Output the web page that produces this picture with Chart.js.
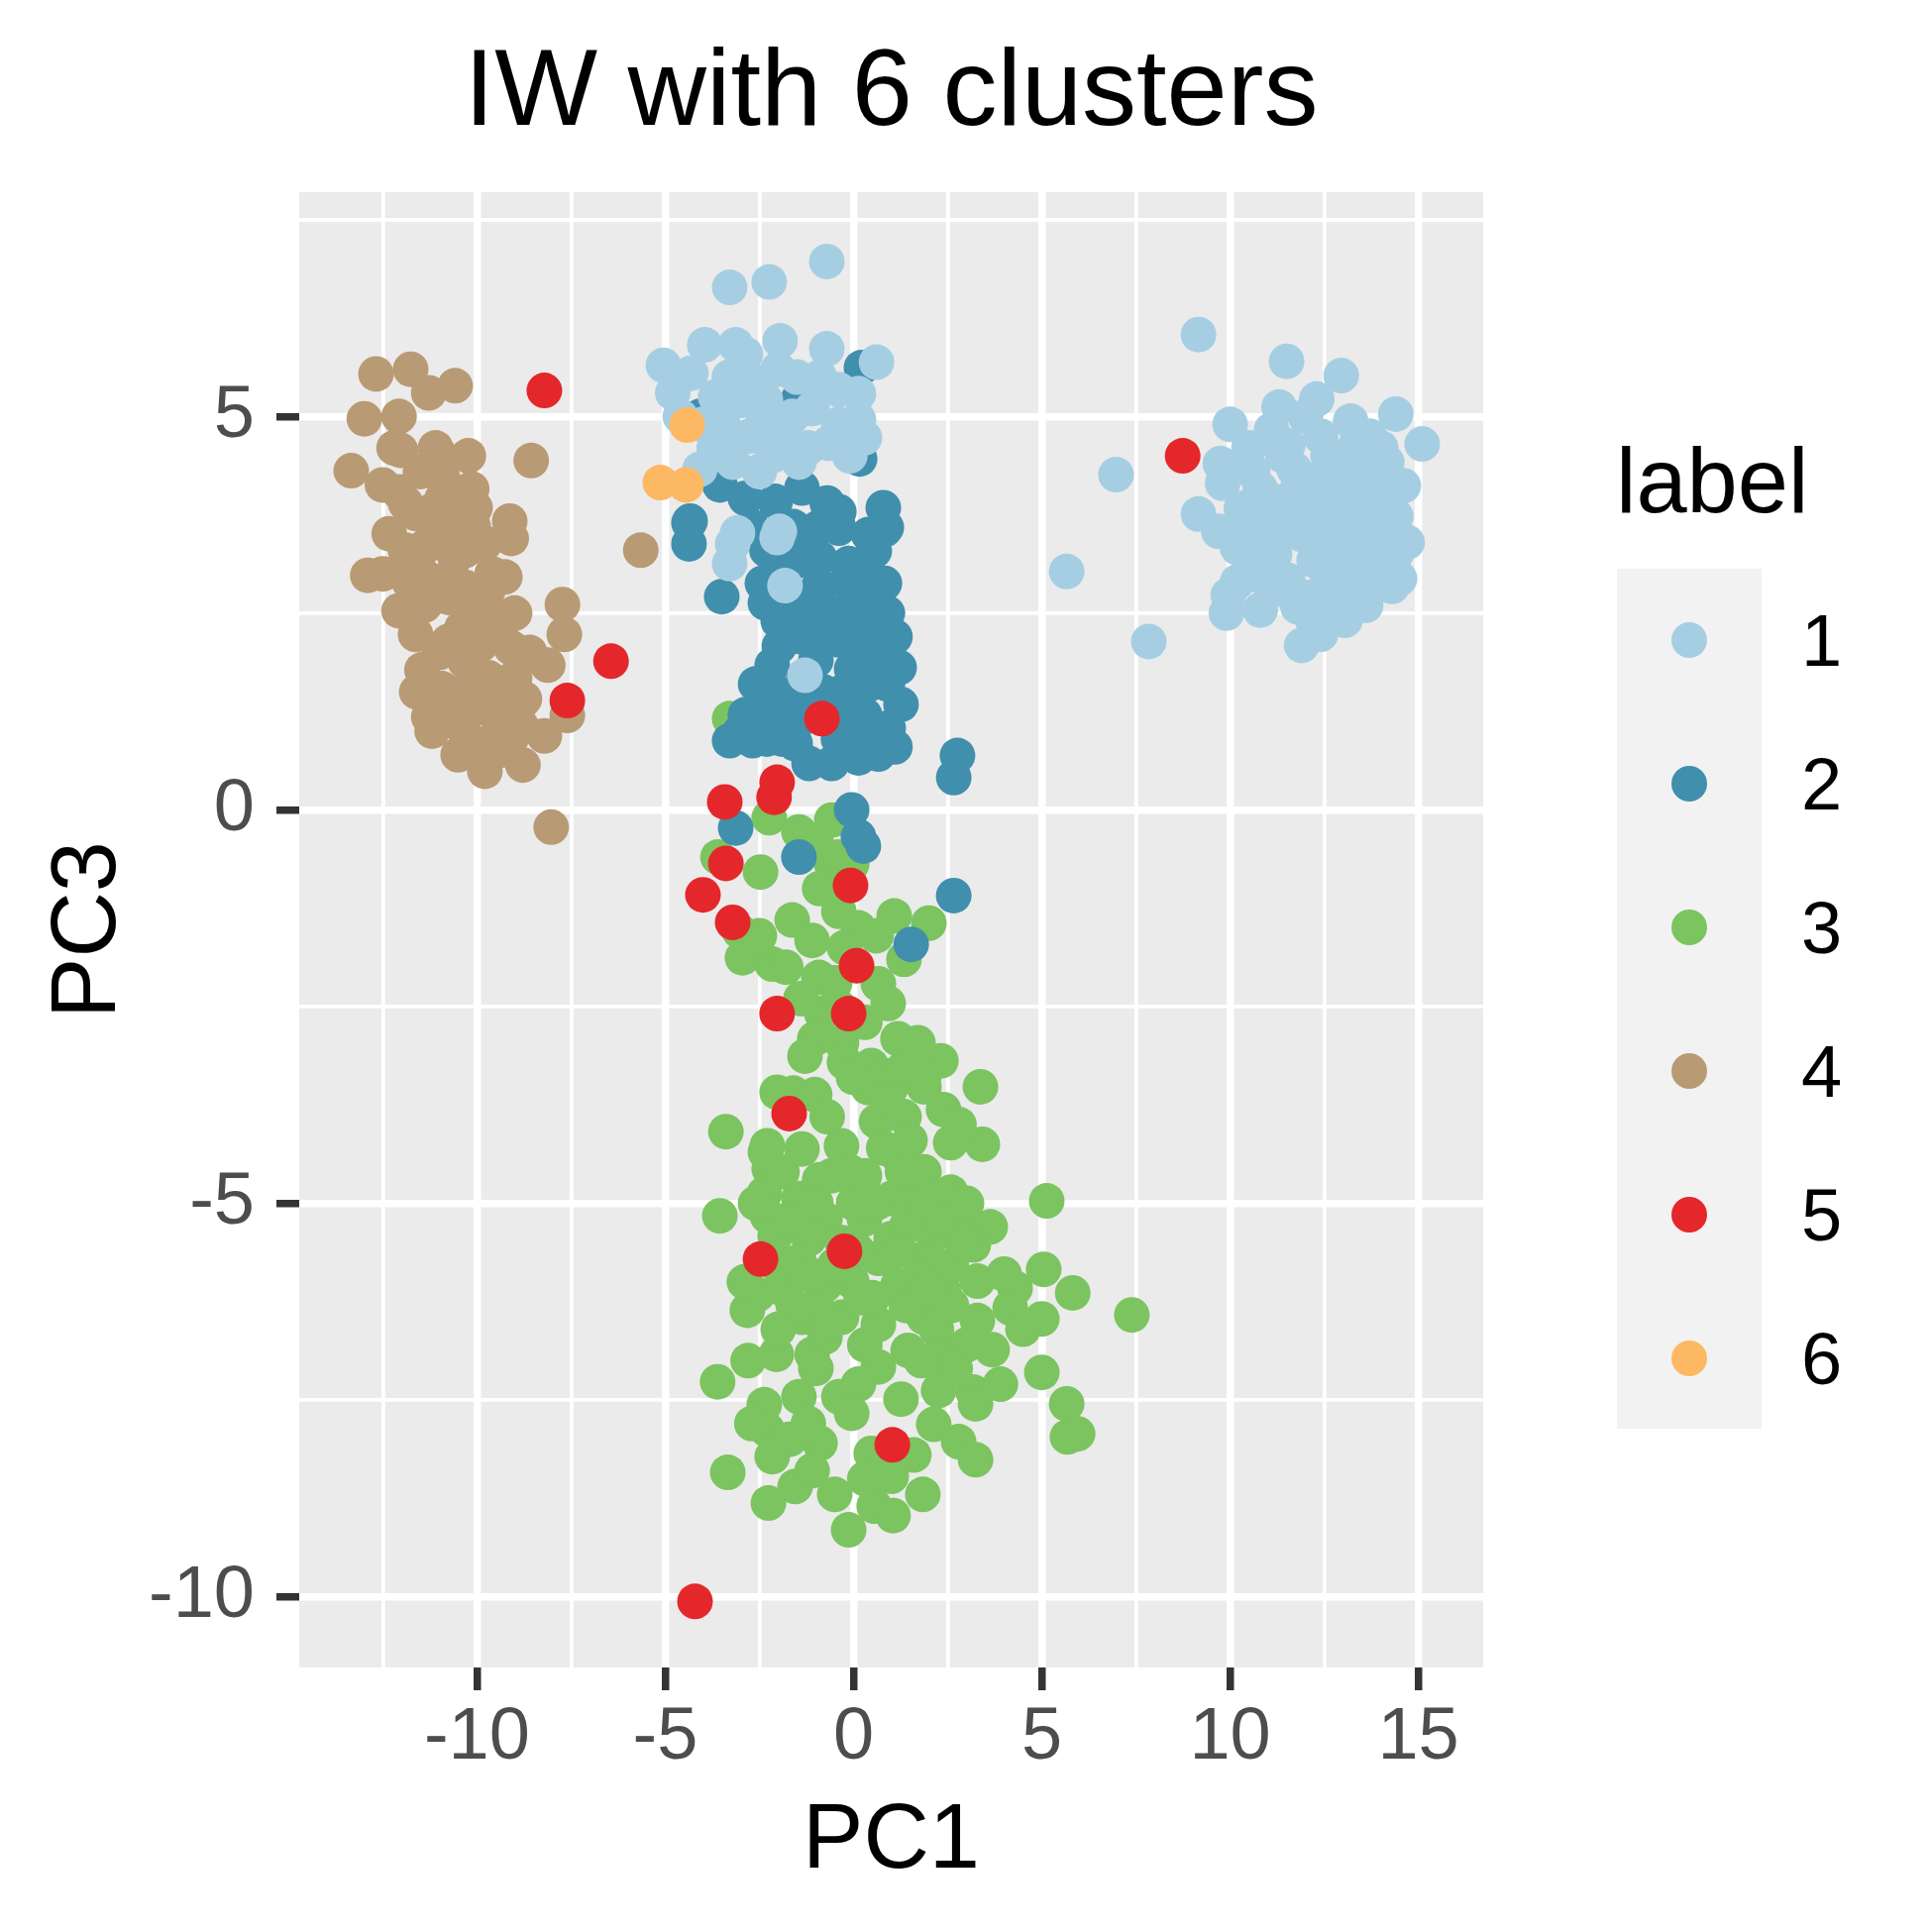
<!DOCTYPE html>
<html>
<head>
<meta charset="utf-8">
<title>IW with 6 clusters</title>
<script src="https://cdn.jsdelivr.net/npm/chart.js@4.4.1/dist/chart.umd.min.js"></script>
<style>
  html, body { margin: 0; padding: 0; background: #ffffff; }
  #wrap { width: 1950px; height: 1950px; }
</style>
</head>
<body>
<div id="wrap"><canvas id="pcaPlot" width="1950" height="1950"></canvas></div>
<script>
// PC1 / PC3 scores, one array per cluster label: [PC1, PC3]
const label1 = [
  [9.16,6.04],[11.5,5.7],[12.95,5.52],[12.3,5.22],[11.3,5.12],[14.4,5.03],[13.2,4.94],[10.0,4.9],
  [15.1,4.65],[11.1,4.83],[6.97,4.26],[9.74,4.4],[9.8,4.15],[9.16,3.76],[9.7,3.54],[10.2,3.33],
  [10.8,4.08],[14.6,4.12],[14.4,3.73],[14.4,3.25],[14.5,2.94],[14.3,2.84],[9.95,2.73],[9.9,2.5],
  [10.8,2.54],[11.8,2.58],[12.9,2.66],[13.05,2.41],[12.4,2.23],[11.9,2.09],[7.84,2.14],[13.8,2.84],
  [11.53,4.63],[12.4,4.75],[13.7,4.75],[14.16,4.42],[11.7,4.33],[12.84,4.42],[13.7,4.17],[11.18,3.92],
  [12.23,4.0],[13.28,3.92],[14.16,3.92],[10.65,3.67],[11.7,3.58],[12.75,3.58],[13.8,3.5],[11.18,3.25],
  [12.23,3.17],[13.28,3.17],[13.97,3.25],[11.53,2.92],[12.58,2.88],[13.45,2.84],[10.47,3.5],[10.3,3.83],
  [12.0,4.2],[13.0,4.1],[12.5,3.3],[11.0,2.9],[13.5,3.7],[12.1,3.85],[12.9,3.0],[11.6,3.95],[5.66,3.03],
  [10.6,4.3],[11.0,3.4],[11.4,4.5],[11.9,3.5],[12.0,2.7],[12.6,4.5],[12.7,2.5],[13.1,3.4],
  [13.5,4.4],[13.9,3.9],[14.1,2.95],[10.9,3.2],[11.4,2.8],[12.3,3.6],[13.6,2.6],[10.2,2.9],
  [10.5,4.6],[12.0,5.0],[13.3,4.6],[14.7,3.4],[11.8,4.1],[13.0,3.8],[12.5,4.2],[11.3,3.7],
  [10.5,3.0],[14.0,4.6],[12.2,2.4],[13.9,3.5],
  [-0.71,6.97],[-2.24,6.71],[-3.29,6.64],[-1.95,5.96],[-0.71,5.86],[0.61,5.69],[-5.05,5.65],[-3.95,5.91],
  [-3.13,5.91],[-2.87,5.79],[-4.32,5.55],[-2.68,5.46],[-0.39,5.34],[0.13,5.29],[-3.66,5.25],[-2.34,5.21],
  [-1.63,5.0],[0.13,4.96],[0.29,4.73],[-0.66,4.66],[-3.47,4.91],[-2.76,4.75],[-1.89,4.66],[-4.08,4.33],
  [-3.21,4.42],[-1.45,4.42],[-3.39,4.58],[-2.16,4.5],[-3.08,3.52],[-1.97,3.54],[-1.29,1.71],[-1.82,2.85],
  [-3.21,3.38],[-3.29,3.13],[-2.03,3.46],
  [-4.0,4.9],[-3.0,5.2],[-2.0,5.6],[-1.1,5.1],[-0.4,4.9],[-2.5,4.3],[-1.2,4.6],[-3.7,4.6],
  [-4.6,5.0],[-4.8,5.3],[-1.5,5.5],[-0.9,5.5],[-2.4,5.0],[-3.3,5.5],[-0.1,4.5]
];
const label2 = [
  [-1.45,5.23],[0.21,5.62],[0.16,4.46],[-3.55,4.13],[-4.34,3.67],[-2.87,3.96],[-2.08,3.92],[-1.37,4.09],
  [-0.39,3.79],[0.79,3.84],[0.87,3.59],[-0.92,3.59],[-4.08,5.0],[-4.37,3.65],[-4.37,3.38],[-3.5,2.71],
  [-2.34,2.63],[-2.42,2.88],[-1.1,3.5],[-0.39,3.58],[0.82,3.56],[0.55,3.29],[-1.45,3.17],[-0.13,3.13],
  [0.82,2.88],[-0.92,2.84],[0.13,2.63],[-1.1,2.41],[0.66,2.21],[-1.97,2.08],[-0.39,2.16],[-2.16,1.84],
  [1.21,1.81],[-2.24,1.59],[-0.05,1.79],[0.39,1.59],[1.26,1.34],[-2.87,1.21],[-3.29,0.88],[-2.68,0.88],
  [-1.55,0.84],[-1.18,0.59],[-0.58,0.59],[0.13,0.66],[0.66,0.71],[0.92,1.04],[-0.05,1.16],[-1.63,1.34],
  [2.76,0.69],[2.66,0.41],[-0.05,0.0],[0.13,-0.34],[-3.13,-0.23],[-0.5,1.34],[-1.37,1.59],[-0.92,2.08],
  [-1.82,2.5],[0.13,2.38],[0.26,-0.46],[-1.45,-0.6],[2.66,-1.09],[1.53,-1.71],[-1.8,3.2],[-0.6,2.5],
  [0.4,3.0],[-1.0,1.9],[0.3,1.2],[-2.6,1.2],[-1.9,0.9],[0.9,2.5],
  [-0.4,0.9],[-1.2,1.2],[-2.0,1.3],[-2.6,1.6],[0.6,1.9],[0.9,1.6],[-0.8,1.5],[0.5,2.6],
  [-0.2,2.9],[0.4,3.5],[-0.9,3.2],[-2.3,3.3],[-2.7,3.6],[-1.6,3.6],[-2.0,2.4],[-1.5,2.7],
  [-1.4,2.2],[0.0,2.2],[1.1,2.2],[-0.3,1.5],[-1.6,1.0],[-2.3,0.9],[0.7,1.0],[1.1,0.8],
  [0.2,0.9],[-3.0,1.0],[-0.7,3.9]
];
const label3 = [
  [-3.29,1.16],[-2.24,-0.1],[-1.45,-0.28],[-0.58,-0.13],[-0.05,0.75],[-3.6,-0.6],[-2.47,-0.79],[-0.58,-0.69],
  [-0.05,-0.69],[1.08,-1.35],[2.0,-1.44],[1.34,-1.9],[-1.63,-1.4],[-0.39,-1.29],[0.13,-1.5],[-3.03,-1.54],
  [-2.95,-1.88],[-2.16,-1.96],[-1.1,-1.66],[-0.92,-2.13],[-0.24,-1.75],[0.66,-2.21],[0.92,-2.46],[-0.84,-2.59],
  [-1.03,-2.91],[-1.29,-3.13],[-0.32,-2.96],[-0.24,-3.21],[0.47,-3.25],[0.82,-3.38],[1.18,-2.91],[1.71,-2.96],
  [2.32,-3.19],[1.87,-3.38],[-2.03,-3.59],[-1.03,-3.62],[0.39,-3.53],[1.0,-3.52],[1.87,-3.52],[3.37,-3.52],
  [-3.39,-4.09],[0.61,-3.96],[1.34,-3.9],[2.39,-3.81],[3.42,-4.25],[-2.29,-4.27],[-1.37,-4.31],[-0.32,-4.27],
  [1.18,-4.4],[2.58,-4.23],[-2.24,-4.56],[-0.58,-4.65],[0.29,-4.65],[1.87,-4.6],[2.58,-4.86],[-2.37,-4.88],
  [-1.45,-4.94],[1.0,-4.94],[-3.55,-5.16],[5.13,-4.97],[-2.29,-5.16],[-0.76,-5.2],[0.29,-5.2],[1.79,-5.11],
  [2.76,-5.23],[3.63,-5.3],[-2.08,-5.41],[-1.18,-5.45],[1.0,-5.45],[2.13,-5.41],[3.18,-5.53],[-1.45,-5.74],
  [0.66,-5.7],[1.87,-5.7],[5.05,-5.84],[4.29,-6.08],[5.82,-6.14],[3.29,-5.99],[4.16,-6.33],[5.0,-6.47],
  [7.39,-6.42],[-2.55,-6.16],[-2.82,-6.36],[-1.82,-6.11],[-0.76,-6.04],[-0.05,-5.99],[1.18,-6.04],[2.39,-6.11],
  [-1.37,-6.45],[-0.32,-6.45],[0.66,-6.54],[1.87,-6.45],[3.29,-6.49],[-0.5,-5.79],[1.71,-5.95],[-2.34,-4.35],
  [0.0,-5.0],[-0.3,-5.5],[1.4,-5.3],[0.5,-6.2],[2.6,-5.8],[-1.0,-6.3],[2.2,-6.6],[0.8,-4.3],[-0.9,-4.7],[1.6,-4.8],
  [-2.05,-6.92],[-3.61,-7.27],[-1.45,-7.46],[-2.37,-7.56],[-2.29,-7.88],[-0.89,-8.05],[-2.16,-8.22],[-3.34,-8.42],
  [-1.55,-8.6],[-2.26,-8.81],[-1.1,-6.92],[-0.39,-7.46],[0.13,-7.3],[-0.05,-7.67],[1.26,-7.49],[0.47,-8.18],
  [1.0,-8.47],[1.84,-8.7],[0.55,-8.85],[1.05,-8.97],[-0.13,-9.15],[2.13,-7.81],[2.79,-8.03],[3.24,-8.26],
  [2.26,-7.38],[3.18,-7.4],[3.24,-7.55],[3.68,-6.86],[5.0,-7.15],[5.66,-7.55],[5.95,-7.93],[5.68,-7.97],
  [1.45,-6.87],[2.39,-6.96],[0.66,-7.08],[-0.76,-6.7],
  [-1.9,-4.6],[-1.7,-5.2],[-1.0,-5.0],[-0.1,-4.6],[0.6,-5.0],[1.3,-4.6],[2.2,-4.9],[2.3,-5.2],
  [2.9,-5.5],[2.6,-6.3],[1.4,-6.3],[0.2,-6.2],[-0.6,-6.5],[-1.6,-6.3],[-2.0,-5.8],[-1.2,-5.9],
  [0.1,-5.6],[1.2,-5.6],[2.0,-6.1],[3.0,-6.8],[-2.0,-6.6],[-1.0,-7.1],[0.3,-6.8],[1.8,-7.0],
  [2.7,-7.1],[-2.6,-5.0],[-2.9,-6.0],[0.9,-3.7],[1.5,-4.2],[2.8,-4.0],[-0.7,-3.9],[-1.6,-3.6],
  [0.0,-3.4],[1.3,-3.3],[-0.4,-2.5],[0.3,-2.7],[-0.5,-2.2],[-1.4,-2.4],[-1.8,-2.0],[-2.5,-1.6],
  [-0.9,-1.0],[-0.4,-0.6],[-1.0,-0.4],[0.6,-1.6],[3.0,-5.0],[4.0,-5.9],[4.5,-6.6],[3.9,-7.3],
  [-2.8,-7.0],[-2.7,-7.8],[-1.7,-8.0],[-1.1,-8.4],[-0.5,-8.7],[-1.2,-7.8],[0.3,-8.5],[1.6,-8.2]
];
const label4 = [
  [-12.68,5.54],[-11.76,5.6],[-10.58,5.39],[-11.28,5.3],[-12.99,4.97],[-12.07,5.0],[-13.34,4.31],[-12.03,4.57],
  [-10.97,4.5],[-10.23,4.5],[-8.56,4.44],[-12.51,4.13],[-10.14,4.08],[-10.05,3.84],[-9.13,3.67],[-9.09,3.45],
  [-9.79,3.39],[-12.33,3.51],[-11.63,3.77],[-10.93,3.95],[-5.65,3.3],[-12.9,2.98],[-11.46,3.0],[-10.58,3.21],
  [-9.26,2.96],[-12.07,2.53],[-10.76,2.7],[-9.7,2.57],[-7.73,2.61],[-7.68,2.23],[-11.63,2.23],[-10.4,2.31],
  [-9.35,2.36],[-11.46,1.78],[-10.32,1.89],[-9.09,2.06],[-8.12,1.84],[-10.93,1.54],[-9.7,1.68],[-8.74,1.41],
  [-11.28,1.18],[-10.4,1.06],[-7.6,1.2],[-11.19,1.0],[-8.82,1.06],[-9.79,0.49],[-8.78,0.57],[-8.03,-0.22],
  [-10.05,0.85],[-9.35,0.76],[-9.53,1.36],[-10.76,2.14],[-10.32,2.83],[-11.37,3.35],[-12.07,4.04],[-10.76,3.6],
  [-8.21,0.94],[-9.0,1.68],[-10.14,1.62],[-11.28,2.66],
  [-11.9,3.3],[-11.1,3.4],[-10.3,3.3],[-11.4,2.6],[-10.1,2.5],[-9.9,2.1],[-11.0,2.0],[-10.6,1.2],
  [-9.4,1.1],[-9.9,1.3],[-11.8,2.9],[-10.9,4.2],[-11.5,4.3],[-11.9,3.9],[-9.6,3.0],[-9.0,2.5],
  [-8.6,2.0],[-9.1,0.9],[-10.5,0.7],[-8.9,1.3],[-12.2,4.6],[-11.1,4.6],[-10.5,4.0],[-10.1,3.6],
  [-11.0,2.9],[-11.6,1.5],[-10.2,1.4],[-9.7,2.8],[-12.5,3.0],[-11.2,3.8]
];
const label5 = [
  [-8.21,5.33],[-6.44,1.89],[-7.6,1.39],[8.74,4.5],[-0.84,1.16],[-2.03,0.35],[-2.11,0.16],[-3.42,0.1],
  [-3.39,-0.68],[-4.0,-1.08],[-3.21,-1.43],[-0.08,-0.96],[0.08,-1.98],[-2.03,-2.59],[-0.13,-2.59],[-1.71,-3.86],
  [-2.47,-5.71],[-0.24,-5.61],[1.03,-8.07],[-4.21,-10.06]
];
const label6 = [
  [-4.42,4.89],[-5.13,4.16],[-4.45,4.13]
];

const labelNames = ['1', '2', '3', '4', '5', '6'];
const labelColors = ['#A6CEE3', '#408FAD', '#7BC460', '#B89A74', '#E4272A', '#FDB863'];
// drawing order (0 = on top)
const labelOrder = [2, 4, 5, 3, 1, 0];
const labelPoints = [label1, label2, label3, label4, label5, label6];

const xBreaks = [-10, -5, 0, 5, 10, 15];
const xMinorBreaks = [-12.5, -7.5, -2.5, 2.5, 7.5, 12.5];
const yBreaks = [-10, -5, 0, 5];
const yMinorBreaks = [-7.5, -2.5, 2.5, 7.5];
const xLimits = [-14.72, 16.72];
const yLimits = [-10.9, 7.85];

const FONT = '"Liberation Sans", Arial, Helvetica, sans-serif';

const datasets = labelPoints.map((pts, i) => ({
  label: labelNames[i],
  data: pts.map(([x, y]) => ({ x: x, y: y })),
  backgroundColor: labelColors[i],
  borderWidth: 0,
  pointRadius: 18,
  pointHoverRadius: 18,
  pointBorderWidth: 0,
  order: labelOrder[i]
}));

function axisOptions(breaks, minor, limits, isX) {
  const isMajor = (v) => breaks.includes(v);
  return {
    type: 'linear',
    position: isX ? 'bottom' : 'left',
    min: limits[0],
    max: limits[1],
    afterBuildTicks: (scale) => {
      scale.ticks = breaks.concat(minor).sort((a, b) => a - b).map(v => ({ value: v }));
    },
    afterFit: (scale) => {
      if (isX) scale.height = 267;
      else scale.width = 302;
    },
    border: { display: false },
    grid: {
      color: '#FFFFFF',
      lineWidth: (ctx) => (ctx.tick && isMajor(ctx.tick.value)) ? 7.5 : 3.75,
      drawTicks: true,
      tickLength: 23,
      tickWidth: 7.5,
      tickColor: (ctx) => (ctx.tick && isMajor(ctx.tick.value)) ? '#333333' : 'rgba(0,0,0,0)'
    },
    ticks: {
      autoSkip: false,
      maxRotation: 0,
      minRotation: 0,
      padding: isX ? 4 : 22,
      color: '#4D4D4D',
      font: { family: FONT, size: 74 },
      callback: (value) => isMajor(value) ? String(value) : ''
    }
  };
}

// grey panel, title, axis titles and the ggplot style legend
const ggDecor = {
  id: 'ggDecor',
  beforeDraw(chart) {
    const { ctx, chartArea: a } = chart;
    ctx.save();
    ctx.fillStyle = '#FFFFFF';
    ctx.fillRect(0, 0, chart.width, chart.height);
    ctx.fillStyle = '#EBEBEB';
    ctx.fillRect(a.left, a.top, a.right - a.left, a.bottom - a.top);
    ctx.restore();
  },
  afterDraw(chart) {
    const { ctx, chartArea: a } = chart;
    const midX = (a.left + a.right) / 2;
    const midY = (a.top + a.bottom) / 2;
    ctx.save();
    ctx.fillStyle = '#000000';
    ctx.textBaseline = 'alphabetic';

    ctx.textAlign = 'center';
    ctx.font = '110px ' + FONT;
    ctx.fillText('IW with 6 clusters', midX, 126);

    ctx.font = '92px ' + FONT;
    ctx.fillText('PC1', midX, 1885);

    ctx.save();
    ctx.translate(116, midY);
    ctx.rotate(-Math.PI / 2);
    ctx.fillText('PC3', 0, 0);
    ctx.restore();

    // legend
    ctx.textAlign = 'left';
    ctx.font = '92px ' + FONT;
    ctx.fillText('label', 1631, 517);

    ctx.fillStyle = '#F2F2F2';
    ctx.fillRect(1632, 574, 146, 868);

    ctx.font = '74px ' + FONT;
    labelNames.forEach((name, i) => {
      const cy = 646 + 145 * i;
      ctx.fillStyle = labelColors[i];
      ctx.beginPath();
      ctx.arc(1705, cy, 18, 0, Math.PI * 2);
      ctx.fill();
      ctx.fillStyle = '#000000';
      ctx.fillText(name, 1818, cy + 26);
    });
    ctx.restore();
  }
};

new Chart(document.getElementById('pcaPlot'), {
  type: 'scatter',
  data: { datasets: datasets },
  options: {
    responsive: false,
    devicePixelRatio: 1,
    animation: false,
    events: [],
    layout: { padding: { top: 194, right: 453, left: 0, bottom: 0 } },
    scales: {
      x: axisOptions(xBreaks, xMinorBreaks, xLimits, true),
      y: axisOptions(yBreaks, yMinorBreaks, yLimits, false)
    },
    plugins: {
      legend: { display: false },
      tooltip: { enabled: false },
      title: { display: false }
    }
  },
  plugins: [ggDecor]
});
</script>
</body>
</html>
